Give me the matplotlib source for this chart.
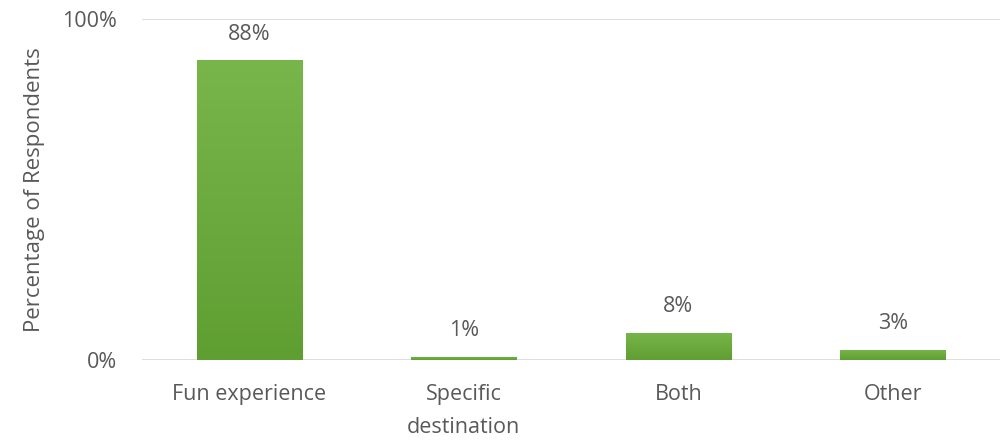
import numpy as np
import matplotlib.pyplot as plt

categories = ["Fun experience", "Specific\ndestination", "Both", "Other"]
values = [88, 1, 8, 3]
labels = ["88%", "1%", "8%", "3%"]

plt.rcParams['font.family'] = ['Open Sans', 'DejaVu Sans']
grey = "#595959"

fig = plt.figure(figsize=(10.05, 4.41), dpi=100)
ax = fig.add_axes([0.1413, 0.1837, 0.854, 0.773])

x = np.arange(len(categories))
bars = ax.bar(x, values, width=0.49, color="#6aab3e", zorder=2)

# vertical gradient inside each bar
grad = np.linspace(0, 1, 256).reshape(-1, 1)
cmap = plt.matplotlib.colors.LinearSegmentedColormap.from_list("g", ["#5f9e31", "#78b64b"])
for b in bars:
    x0, y0 = b.get_x(), b.get_y()
    w, h = b.get_width(), b.get_height()
    im = ax.imshow(grad, cmap=cmap, aspect="auto", origin="lower",
                   extent=(x0, x0 + w, y0, y0 + h), zorder=3)
    im.set_clip_path(b)

for xi, v, lab in zip(x, values, labels):
    ax.annotate(lab, (xi, v), xytext=(0, 11), textcoords="offset points",
                ha="center", va="bottom", fontsize=15.5, color=grey)

ax.set_xlim(-0.5, len(categories) - 0.5)
ax.set_ylim(0, 100)
ax.set_yticks([0, 100])
ax.set_yticklabels(["0%", "100%"])
ax.set_xticks(x)
ax.set_xticklabels(categories, linespacing=1.75)
ax.tick_params(axis="both", length=0, labelsize=15.5, labelcolor=grey)
ax.tick_params(axis="x", pad=17)
ax.tick_params(axis="y", pad=18)

for s in ax.spines.values():
    s.set_visible(False)
ax.axhline(0, color="#d9d9d9", lw=1.2, zorder=1)
ax.axhline(100, color="#d9d9d9", lw=1.2, zorder=1)

ax.set_ylabel("Percentage of Respondents", fontsize=16, color=grey, labelpad=12)

fig.savefig("out.png", dpi=100)
